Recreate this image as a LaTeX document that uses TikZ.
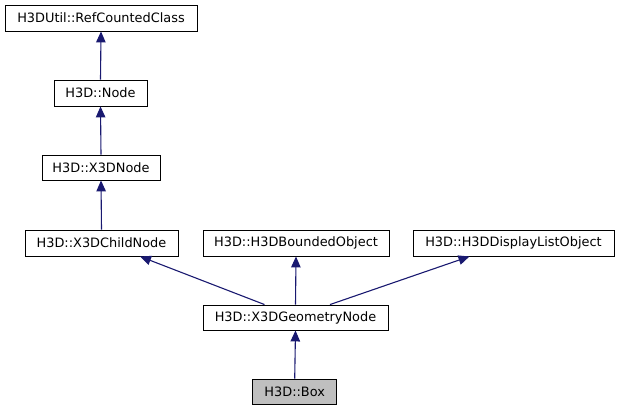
\documentclass[tikz,border=0pt]{standalone}
\usepackage{fontspec}
\setmainfont{DejaVu Sans}
\usetikzlibrary{arrows.meta}
\definecolor{edgeblue}{HTML}{191970}
\definecolor{boxgray}{HTML}{BFBFBF}
\begin{document}
\begin{tikzpicture}[x=1pt,y=-1pt,
  cls/.style={draw=black,line width=0.9pt,fill=white,inner sep=0pt,font=\fontsize{12.9}{14}\selectfont},
  inh/.style={draw=edgeblue,line width=1.1pt,-{Triangle[length=11pt,width=9.5pt]}}]
\useasboundingbox (0,0) rectangle (617,411);
\node[cls,minimum width=192,minimum height=26] (rc) at (101,18) {H3DUtil::RefCountedClass};
\node[cls,minimum width=93,minimum height=26] (nd) at (100.5,93) {H3D::Node};
\node[cls,minimum width=118,minimum height=25] (x3d) at (101,167.5) {H3D::X3DNode};
\node[cls,minimum width=153,minimum height=26] (child) at (101.5,243) {H3D::X3DChildNode};
\node[cls,minimum width=186,minimum height=26] (bnd) at (296,243) {H3D::H3DBoundedObject};
\node[cls,minimum width=201,minimum height=26] (dl) at (513.5,243) {H3D::H3DDisplayListObject};
\node[cls,minimum width=185,minimum height=25] (geo) at (295.5,317.5) {H3D::X3DGeometryNode};
\node[cls,fill=boxgray,minimum width=84,minimum height=25] (box) at (294.7,391.5) {H3D::Box};
\draw[inh] (nd.north) -- (rc.south);
\draw[inh] (x3d.north) -- (nd.south);
\draw[inh] (child.north) -- (x3d.south);
\draw[inh] (box.north) -- (geo.south);
\draw[inh] (geo.north) -- (bnd.south);
\draw[inh] ([xshift=-31]geo.north) -- ([xshift=38.5]child.south);
\draw[inh] ([xshift=34.5]geo.north) -- ([xshift=-44]dl.south);
\end{tikzpicture}
\end{document}
